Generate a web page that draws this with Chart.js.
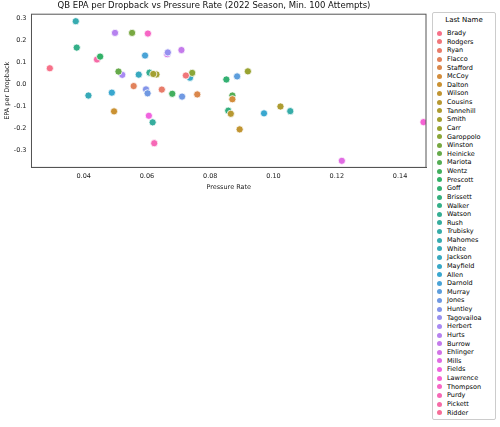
<!DOCTYPE html>
<html>
<head>
<meta charset="utf-8">
<script src="https://cdn.jsdelivr.net/npm/chart.js"></script>
<style>
  body { margin:0; background:#fff; font-family:"DejaVu Sans", sans-serif; }
  #wrap { position:absolute; left:0; top:0; width:432px; height:192px; }
  #legend { position:absolute; left:432px; top:12px; width:64px; height:408px; border:1px solid #ccc; border-radius:2px; box-sizing:border-box; font-size:6.5px; color:#000; }
  #legend .t { text-align:center; margin-top:3px; height:13px; font-size:7px; }
  #legend .row { height:8.64px; line-height:8.64px; white-space:nowrap; padding-left:4px; }
  #legend .dot { display:inline-block; width:5px; height:5px; border-radius:50%; margin-right:5px; vertical-align:middle; }
</style>
</head>
<body>
<div id="wrap"><canvas id="c"></canvas></div>
<div id="legend"><div class="t">Last Name</div></div>
<script>
const names = ['Brady','Rodgers','Ryan','Flacco','Stafford','McCoy','Dalton','Wilson','Cousins','Tannehill','Smith','Carr','Garoppolo','Winston','Heinicke','Mariota','Wentz','Prescott','Goff','Brissett','Walker','Watson','Rush','Trubisky','Mahomes','White','Jackson','Mayfield','Allen','Darnold','Murray','Jones','Huntley','Tagovailoa','Herbert','Hurts','Burrow','Ehlinger','Mills','Fields','Lawrence','Thompson','Purdy','Pickett','Ridder'];
// pressure rate per QB (some names cover two players)
const pressure = [[0.0293],[0.0723],[0.0647],[0.0558],[0.0759],[0.087],[0.0496],[0.0893],[0.0865],[0.1022],[0.063,0.062],[0.0919],[0.0743],[0.0553],[0.051],[0.087],[0.068],[0.0452],[0.0851],[0.0857],[0.0378],[0.0608],[0.0618],[0.1053],[0.0375],[0.0415],[0.0574],[0.0736],[0.0489,0.097],[0.0594],[0.0885],[0.0711,0.0602],[0.0597],[0.0666],[0.0522],[0.0499],[0.0709],[0.0664],[0.1216],[0.0606],[0.1474],[0.0603],[0.0623],[0.0442],[]];
const epa = [[0.071],[0.038],[-0.026],[-0.01],[-0.048],[-0.07],[-0.125],[-0.207],[-0.136],[-0.103],[0.043,0.045],[0.057],[0.05],[0.232],[0.056],[-0.053],[-0.045],[0.124],[0.02],[-0.122],[0.165],[0.051],[-0.175],[-0.124],[0.285],[-0.053],[0.042],[0.028],[-0.04,-0.134],[0.129],[0.034],[-0.058,-0.043],[-0.025],[0.143],[0.041],[0.232],[0.154],[0.135],[-0.35],[-0.145],[-0.174],[0.229],[-0.27],[0.111],[]];

// approximate seaborn husl palette by interpolating its 8-colour version
const anchors = ['#f77189','#ce9032','#97a431','#32b166','#36ada4','#39a7d0','#a48cf4','#f561dd','#f77189'];
function hex(h){ return [1,3,5].map(i => parseInt(h.substr(i,2),16)); }
function pal(i, n){
  const t = i / n * 8, k = Math.floor(t), f = t - k;
  const a = hex(anchors[k]), b = hex(anchors[k+1]);
  return 'rgb(' + a.map((v,j) => Math.round(v + (b[j]-v)*f)).join(',') + ')';
}

const datasets = names.map((n, i) => ({
  label: n,
  data: pressure[i].map((x, j) => ({x: x, y: epa[i][j]})),
  backgroundColor: pal(i, names.length),
  borderColor: '#fff',
  borderWidth: 0.8,
  pointRadius: 3.6
}));

const lg = document.getElementById('legend');
names.forEach((n, i) => {
  const r = document.createElement('div');
  r.className = 'row';
  r.innerHTML = '<span class="dot" style="background:' + pal(i, names.length) + '"></span>' + n;
  lg.appendChild(r);
});

const frame = {
  id: 'frame',
  afterDraw(chart) {
    const a = chart.chartArea, ctx = chart.ctx;
    ctx.save();
    ctx.strokeStyle = '#555';
    ctx.lineWidth = 1;
    ctx.strokeRect(a.left, a.top, a.right - a.left, a.bottom - a.top);
    ctx.restore();
  }
};

Chart.defaults.font.family = 'DejaVu Sans';
new Chart(document.getElementById('c'), {
  type: 'scatter',
  data: { datasets: datasets },
  plugins: [frame],
  options: {
    animation: false,
    responsive: true,
    maintainAspectRatio: false,
    layout: { padding: { left: 2, right: 6, top: 0, bottom: 0 } },
    plugins: {
      legend: { display: false },
      tooltip: { enabled: false },
      title: { display: true, text: 'QB EPA per Dropback vs Pressure Rate (2022 Season, Min. 100 Attempts)', color: '#111', font: { size: 8.5, weight: 'normal' }, padding: { top: 1, bottom: 3 } }
    },
    scales: {
      x: {
        min: 0.0235, max: 0.1482,
        grid: { display: false, drawTicks: true, tickLength: 3 },
        border: { color: '#555', width: 1 },
        afterBuildTicks: s => { s.ticks = [0.04,0.06,0.08,0.10,0.12,0.14].map(v => ({value: v})); },
        ticks: { color: '#222', font: { size: 6.5 }, padding: 2, callback: v => v.toFixed(2) },
        title: { display: true, text: 'Pressure Rate', color: '#222', font: { size: 6.5 }, padding: 1 }
      },
      y: {
        min: -0.38, max: 0.317,
        grid: { display: false, tickLength: 3 },
        border: { color: '#555', width: 1 },
        afterBuildTicks: s => { s.ticks = [-0.3,-0.2,-0.1,0,0.1,0.2,0.3].map(v => ({value: v})); },
        ticks: { color: '#222', font: { size: 6.5 }, padding: 2, callback: v => v.toFixed(1) },
        title: { display: true, text: 'EPA per Dropback', color: '#222', font: { size: 6.5 }, padding: 1 }
      }
    }
  }
});
</script>
</body>
</html>
